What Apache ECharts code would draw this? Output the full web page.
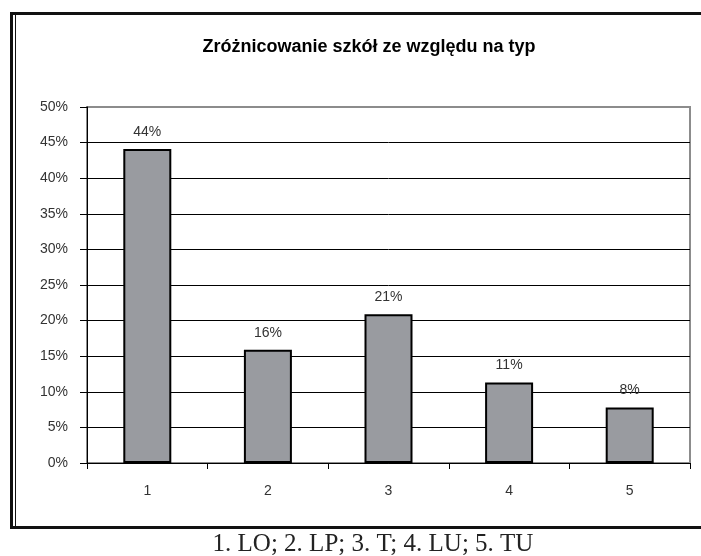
<!DOCTYPE html>
<html>
<head>
<meta charset="utf-8">
<script src="https://cdn.jsdelivr.net/npm/echarts@6/dist/echarts.min.js"></script>
<style>
  html, body { margin: 0; padding: 0; background: #fff; }
  #chart { width: 701px; height: 556px; }
</style>
</head>
<body>
<div id="chart"></div>
<script>
// dane
var categories = ['1', '2', '3', '4', '5']
var shares = [44.1, 15.9, 20.9, 11.3, 7.8]
var yTicks = [0, 5, 10, 15, 20, 25, 30, 35, 40, 45, 50]

var chart = echarts.init(document.getElementById('chart'))

var gridColors = yTicks.map(function (t, i) { return i === yTicks.length - 1 ? '#8c8c8c' : '#000' })

chart.setOption({
    animation: false,
    title: [{
        text: 'Zróżnicowanie szkół ze względu na typ',
        left: 364, top: 33, textAlign: 'center',
        textStyle: { fontFamily: 'Liberation Sans, Arial', fontSize: 18, fontWeight: 'bold', color: '#000', lineHeight: 18 }
    }, {
        text: '1. LO; 2. LP; 3. T; 4. LU; 5. TU',
        left: 368, top: 527, textAlign: 'center',
        textStyle: { fontFamily: 'Liberation Serif, Times New Roman', fontSize: 25, fontWeight: 'normal', color: '#222', lineHeight: 25 }
    }],
    graphic: [
        { type: 'rect', shape: { x: 10, y: 12, width: 691, height: 3 }, style: { fill: '#111' } },
        { type: 'rect', shape: { x: 10, y: 12, width: 3, height: 517 }, style: { fill: '#111' } },
        { type: 'rect', shape: { x: 15, y: 12, width: 1, height: 517 }, style: { fill: '#111' } },
        { type: 'rect', shape: { x: 10, y: 526, width: 691, height: 3 }, style: { fill: '#111' } }
    ],
    grid: {
        left: 87, right: 11, top: 107, bottom: 93,
        show: true, borderColor: '#8c8c8c', borderWidth: 2, backgroundColor: '#fff'
    },
    xAxis: {
        type: 'category',
        data: categories,
        axisLine: { lineStyle: { color: '#000', width: 1 } },
        axisTick: { show: true, length: 6, lineStyle: { color: '#000' } },
        axisLabel: { margin: 21, fontFamily: 'Liberation Sans, Arial', fontSize: 14, color: '#333' }
    },
    yAxis: {
        type: 'value',
        min: 0, max: 50, interval: 5,
        axisLine: { show: true, lineStyle: { color: '#000', width: 1 } },
        axisTick: { show: true, length: 7, lineStyle: { color: '#000' } },
        axisLabel: {
            margin: 19, formatter: '{value}%',
            fontFamily: 'Liberation Sans, Arial', fontSize: 14, color: '#333'
        },
        splitLine: { show: true, lineStyle: { color: gridColors, width: 1 } }
    },
    series: [{
        type: 'bar',
        data: shares,
        barWidth: 48,
        itemStyle: { color: '#999ba0', borderColor: '#000', borderWidth: 2 },
        label: {
            show: true, position: 'top', distance: 10,
            formatter: function (p) { return Math.round(p.value) + '%' },
            fontFamily: 'Liberation Sans, Arial', fontSize: 14, color: '#333'
        }
    }]
})
</script>
</body>
</html>
